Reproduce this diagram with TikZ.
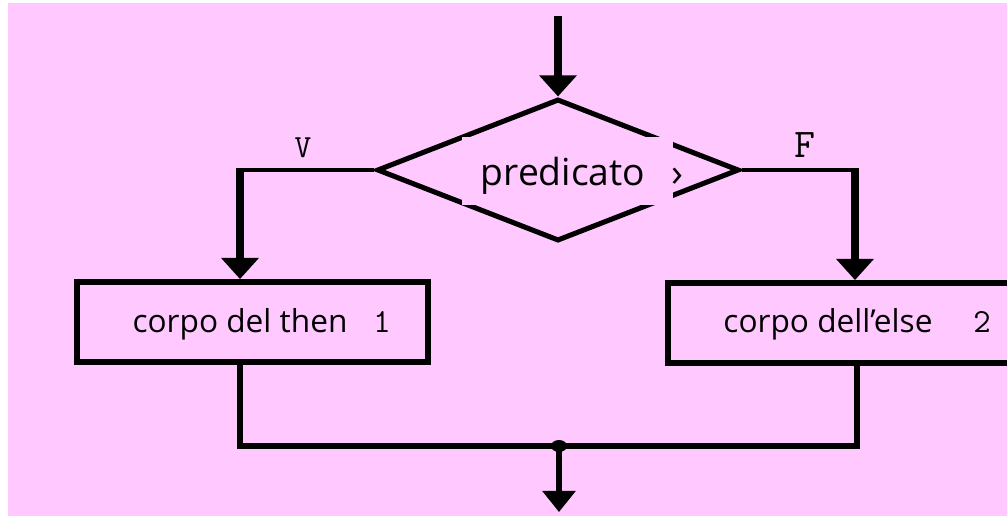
\documentclass[tikz,border=0pt]{standalone}
\usepackage{fontspec}
\setmainfont{Open Sans}
\usetikzlibrary{arrows.meta,shapes.geometric}
\definecolor{pinkbg}{RGB}{255,200,255}
\tikzset{
  x=0.025cm, y=-0.025cm,
  stem/.style={line width=5pt, -{Triangle[width=26pt,length=15pt]}},
  hline/.style={line width=3pt},
  vline/.style={line width=3.6pt},
  boxnode/.style={draw, line width=4.2pt, minimum height=2cm, inner sep=0pt},
  boxtext/.style={font=\fontsize{22.5}{26}\selectfont, anchor=base},
  numtext/.style={font=\ttfamily\fontsize{24}{26}\selectfont, anchor=base},
  lbl/.style={font=\ttfamily\fontsize{23}{25}\selectfont},
}
\begin{document}
\begin{tikzpicture}
\useasboundingbox (0,0) rectangle (1007,516);
\clip (0,0) rectangle (1007,516);
\fill[white] (0,0) rectangle (1007,516);
\fill[pinkbg] (8,3) rectangle (1007,516);

% decision
\node[draw, diamond, line width=3.6pt, minimum width=9.05cm, minimum height=3.55cm, inner sep=0pt] (d) at (558,170) {};
\node[fill=pinkbg, minimum width=5.28cm, minimum height=1.7cm, inner sep=0pt] (pbox) at (567.5,171) {};
\node[font=\fontsize{26.5}{30}\selectfont, anchor=base] (ptxt) at (563,185) {predicato};
\node[font=\fontsize{28}{30}\selectfont, anchor=base] (pgt) at (677,186) {›};

% entry arrow
\coordinate (top) at (558,16);
\draw[stem] (top) -- (d.north);

% branches
\node[boxnode, minimum width=8.775cm] (b1) at (252.5,322) {};
\node[boxnode, minimum width=8.65cm] (b2) at (841,323) {};
\node[boxtext] (t1) at (240,332) {corpo del then};
\node[numtext] (n1) at (382,332) {1};
\node[boxtext] (t2) at (828,332) {corpo dell’else};
\node[numtext] (n2) at (982,332) {2};

\coordinate (lc) at (240,170);
\coordinate (rc) at (855,170);
\draw[hline] (d.west) -- ([xshift=-2.5pt]lc);
\draw[stem] (lc) -- (lc |- b1.north);
\draw[hline] (d.east) -- ([xshift=2.5pt]rc);
\draw[stem] (rc) -- (rc |- b2.north);
\node[lbl] (v) at (303,148) {V};
\node[lbl, font=\ttfamily\fontsize{29}{31}\selectfont] (f) at (805,145) {F};

% join
\coordinate (jl) at (240,446);
\coordinate (jr) at (857,446);
\coordinate (jm) at (559,446);
\coordinate (out) at (559,512);
\draw[vline, line join=miter] (jl |- b1.south) -- (jl) -- (jr) -- (jr |- b2.south);
\fill (jm) ellipse (8 and 6);
\draw[line width=3.6pt, -{Triangle[width=23pt,length=15pt]}] (jm) -- (out);
\end{tikzpicture}
\end{document}
